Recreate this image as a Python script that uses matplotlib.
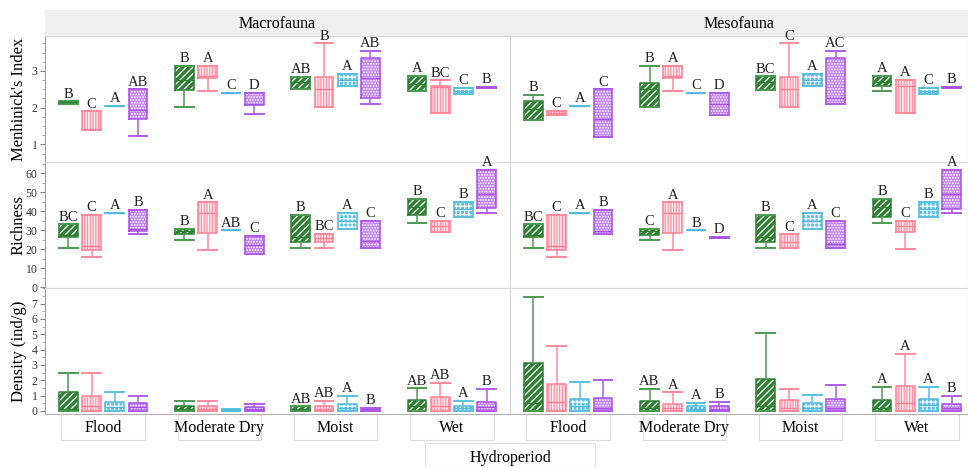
import matplotlib
matplotlib.use("Agg")
import matplotlib.pyplot as plt
from matplotlib.patches import Rectangle
from matplotlib.ticker import MultipleLocator
from matplotlib.transforms import blended_transform_factory

plt.rcParams['font.family'] = ['Liberation Serif', 'DejaVu Serif']
plt.rcParams['hatch.linewidth'] = 0.9

hydroperiods = ["Flood", "Moderate Dry", "Moist", "Wet"]
faunas = ["Macrofauna", "Mesofauna"]
metrics = ["Menhinick's Index", "Richness", "Density (ind/g)"]

# box summaries: (lower whisker, q1, median, q3, upper whisker)
# per hydroperiod, order green / pink / blue / purple
macro_menhinick = [
    (2.11, 2.12, 2.15, 2.17, 2.17), (1.40, 1.40, 1.42, 1.90, 1.90), (2.04, 2.04, 2.04, 2.04, 2.04), (1.23, 1.68, 1.94, 2.50, 2.50),
    (2.03, 2.47, 2.75, 3.14, 3.14), (2.45, 2.80, 2.85, 3.14, 3.14), (2.41, 2.41, 2.41, 2.41, 2.41), (1.82, 2.08, 2.10, 2.40, 2.40),
    (2.50, 2.50, 2.70, 2.84, 2.84), (2.03, 2.03, 2.50, 2.83, 3.75), (2.59, 2.59, 2.75, 2.92, 2.92), (2.11, 2.27, 2.80, 3.35, 3.55),
    (2.45, 2.45, 2.65, 2.86, 2.86), (1.86, 1.86, 2.55, 2.60, 2.74), (2.37, 2.37, 2.45, 2.53, 2.53), (2.53, 2.53, 2.55, 2.57, 2.57),
]
meso_menhinick = [
    (1.66, 1.66, 1.95, 2.18, 2.35), (1.80, 1.80, 1.85, 1.91, 1.91), (2.04, 2.04, 2.04, 2.04, 2.04), (1.21, 1.21, 1.68, 2.50, 2.50),
    (2.01, 2.01, 2.50, 2.68, 3.14), (2.45, 2.80, 2.85, 3.14, 3.14), (2.41, 2.41, 2.41, 2.41, 2.41), (1.80, 1.80, 2.10, 2.40, 2.40),
    (2.48, 2.48, 2.70, 2.85, 2.85), (2.03, 2.03, 2.50, 2.83, 3.75), (2.60, 2.60, 2.75, 2.92, 2.92), (2.10, 2.10, 2.27, 3.35, 3.55),
    (2.46, 2.59, 2.70, 2.86, 2.86), (1.86, 1.86, 2.59, 2.75, 2.75), (2.37, 2.37, 2.45, 2.53, 2.53), (2.53, 2.53, 2.55, 2.57, 2.57),
]
macro_richness = [
    (20.8, 26.6, 27.5, 33.1, 33.1), (15.8, 19.6, 21.9, 38.0, 38.0), (39.1, 39.1, 39.1, 39.1, 39.1), (27.9, 29.8, 30.8, 40.7, 40.7),
    (24.9, 28.0, 29.5, 30.8, 30.8), (19.8, 28.7, 38.9, 44.7, 44.7), (30.0, 30.0, 30.0, 30.0, 30.0), (17.5, 17.5, 22.0, 27.0, 27.0),
    (20.8, 23.7, 26.5, 38.0, 38.0), (20.8, 23.8, 26.0, 28.0, 28.0), (30.8, 30.8, 35.0, 39.0, 39.0), (20.5, 20.5, 24.5, 35.0, 35.0),
    (34.0, 38.0, 42.0, 46.6, 46.6), (28.9, 28.9, 32.0, 35.0, 35.0), (37.2, 37.2, 41.0, 44.9, 44.9), (39.3, 41.9, 48.9, 61.9, 61.9),
]
meso_richness = [
    (20.8, 26.6, 27.5, 33.1, 33.1), (15.8, 19.6, 21.9, 38.0, 38.0), (39.1, 39.1, 39.1, 39.1, 39.1), (27.9, 27.9, 29.6, 40.7, 40.7),
    (24.9, 27.7, 29.5, 30.8, 30.8), (19.8, 28.7, 38.9, 44.7, 44.7), (30.0, 30.0, 30.0, 30.0, 30.0), (26.0, 26.0, 26.3, 26.6, 26.6),
    (20.8, 23.7, 26.6, 38.0, 38.0), (20.5, 20.5, 24.0, 27.9, 27.9), (30.8, 30.8, 35.0, 39.0, 39.0), (20.5, 20.5, 22.8, 35.0, 35.0),
    (34.0, 37.2, 42.0, 46.6, 46.6), (20.0, 28.9, 32.0, 35.0, 35.0), (37.2, 37.2, 41.0, 44.9, 44.9), (39.3, 41.4, 48.9, 61.9, 61.9),
]
macro_density = [
    (0, 0, 0.10, 1.26, 2.50), (0, 0, 0.30, 0.96, 2.46), (0, 0, 0.26, 0.59, 1.22), (0, 0, 0.25, 0.50, 0.96),
    (0, 0, 0.15, 0.33, 0.67), (0, 0, 0.15, 0.30, 0.67), (0, 0, 0.03, 0.07, 0.10), (0, 0, 0.12, 0.26, 0.46),
    (0, 0, 0.15, 0.30, 0.30), (0, 0, 0.15, 0.33, 0.67), (0, 0, 0.20, 0.44, 0.98), (0, 0, 0.10, 0.22, 0.22),
    (0, 0, 0.30, 0.70, 1.48), (0, 0, 0.30, 0.91, 1.85), (0, 0, 0.20, 0.33, 0.65), (0, 0, 0.25, 0.59, 1.43),
]
meso_density = [
    (0, 0, 0.50, 3.15, 7.42), (0, 0, 0.59, 1.74, 4.22), (0, 0, 0.30, 0.78, 1.87), (0, 0, 0.20, 0.87, 2.04),
    (0, 0, 0.20, 0.65, 1.46), (0, 0, 0.20, 0.48, 1.22), (0, 0, 0.15, 0.30, 0.54), (0, 0, 0.15, 0.30, 0.59),
    (0, 0, 0.30, 2.11, 5.10), (0, 0, 0.20, 0.70, 1.43), (0, 0, 0.20, 0.52, 1.04), (0, 0, 0.20, 0.78, 1.72),
    (0, 0, 0.20, 0.70, 1.59), (0, 0, 0.50, 1.63, 3.72), (0, 0, 0.40, 0.76, 1.59), (0, 0, 0.22, 0.43, 0.98),
]

macro_menhinick_letters = ["B", "C", "A", "AB", "B", "A", "C", "D", "AB", "B", "A", "AB", "A", "BC", "C", "B"]
meso_menhinick_letters = ["B", "C", "A", "C", "B", "A", "C", "D", "BC", "C", "A", "AC", "A", "A", "C", "B"]
macro_richness_letters = ["BC", "C", "A", "B", "B", "A", "AB", "C", "B", "BC", "A", "C", "B", "C", "B", "A"]
meso_richness_letters = ["BC", "C", "A", "B", "C", "A", "B", "D", "B", "C", "A", "C", "B", "C", "B", "A"]
macro_density_letters = ["", "", "", "", "", "", "", "", "AB", "AB", "A", "B", "AB", "AB", "A", "B"]
meso_density_letters = ["", "", "", "", "AB", "A", "A", "B", "", "", "", "", "A", "A", "A", "B"]

panels = [
    [(macro_menhinick, macro_menhinick_letters), (meso_menhinick, meso_menhinick_letters)],
    [(macro_richness, macro_richness_letters), (meso_richness, meso_richness_letters)],
    [(macro_density, macro_density_letters), (meso_density, meso_density_letters)],
]

# styles for the four series
edge_colors = ['#2e7d32', '#ff8096', '#4fb8dc', '#a64ee6']
whisker_colors = ['#4e9a52', '#ff8a9c', '#5bc0e0', '#b05ce8']
face_colors = ['#2f8034', '#fff0f3', '#5ebfe4', '#bf80f0']
hatch_colors = ['white', '#ff8fa2', 'white', 'white']
hatches = ['/////', '||||||', '++++', '......']
offsets = [-0.3, -0.1, 0.1, 0.3]
box_w = 0.16

ylims = [(0.52, 3.95), (-0.4, 65.9), (-0.2, 8.02)]
major = [1, 10, 1]
minor = [0.25, 5, 0.5]

W, H = 968, 468
fig = plt.figure(figsize=(W / 100, H / 100), dpi=100)

col_x = [45, 510]
col_w = [465, 458]
row_top = [36, 162, 288]
row_h = 126

# header strip
hax = fig.add_axes([45 / W, (H - 36) / H, 923 / W, 26 / H])
hax.set_facecolor('#efefef')
hax.set_xticks([])
hax.set_yticks([])
for sp in hax.spines.values():
    sp.set_visible(False)
hax.text((277 - 45) / 923, 0.45, faunas[0], ha='center', va='center', fontsize=11.5, transform=hax.transAxes)
hax.text((739 - 45) / 923, 0.45, faunas[1], ha='center', va='center', fontsize=11.5, transform=hax.transAxes)

for r in range(3):
    for c in range(2):
        ax = fig.add_axes([col_x[c] / W, (H - row_top[r] - row_h) / H, col_w[c] / W, row_h / H])
        ax.set_facecolor('none')
        stats, letters = panels[r][c]
        for g in range(4):
            for s in range(4):
                lo, q1, med, q3, hi = stats[g * 4 + s]
                x = g + 1 + offsets[s]
                st = dict(whislo=lo, q1=q1, med=med, q3=q3, whishi=hi, fliers=[])
                # hatched fill
                ax.bxp([st], positions=[x], widths=box_w, patch_artist=True, showcaps=False,
                       showfliers=False, manage_ticks=False,
                       boxprops=dict(facecolor=face_colors[s], edgecolor=hatch_colors[s],
                                     hatch=hatches[s], linewidth=0),
                       whiskerprops=dict(linewidth=0), medianprops=dict(linewidth=0))
                # outline, whiskers, caps, median
                ax.bxp([st], positions=[x], widths=box_w, capwidths=box_w,
                       showfliers=False, manage_ticks=False,
                       boxprops=dict(color=edge_colors[s], linewidth=1.1),
                       whiskerprops=dict(color=whisker_colors[s], linewidth=1.1),
                       capprops=dict(color=whisker_colors[s], linewidth=1.4),
                       medianprops=dict(color=edge_colors[s], linewidth=1.0))
                if letters[g * 4 + s]:
                    ax.annotate(letters[g * 4 + s], (x, hi), xytext=(0, 0.5), textcoords='offset points',
                                ha='center', va='bottom', fontsize=10.5, color='#222222')

        ax.set_xlim(0.5, 0.5 + col_w[c] / 116.25)
        ax.set_ylim(*ylims[r])
        ax.set_xticks([])
        for sp in ax.spines.values():
            sp.set_color('#dadada')
            sp.set_linewidth(0.8)
        if c == 0:
            ax.spines['left'].set_color('#9a9a9a')
            if r == 2:
                ax.set_yticks(range(8))
            else:
                ax.yaxis.set_major_locator(MultipleLocator(major[r]))
            ax.yaxis.set_minor_locator(MultipleLocator(minor[r]))
            ax.tick_params(axis='y', which='major', labelsize=8.5, length=3.5, width=0.8,
                           color='#888888', labelcolor='#333333', pad=2)
            ax.tick_params(axis='y', which='minor', length=2, width=0.6, color='#aaaaaa')
            fig.text(19 / W, (H - row_top[r] - row_h / 2) / H, metrics[r], rotation=90,
                     ha='center', va='center', fontsize=12)
        else:
            ax.tick_params(axis='y', which='both', left=False, labelleft=False)
        if r == 2:
            ax.spines['bottom'].set_color('#b0b0b0')
            tr = blended_transform_factory(ax.transData, ax.transAxes)
            for g, name in enumerate(hydroperiods):
                ax.add_patch(Rectangle((g + 1 - 0.36, -0.21), 0.72, 0.21, transform=tr,
                                       facecolor='white', edgecolor='#dddddd', linewidth=0.8, clip_on=False))
                ax.text(g + 1, -0.115, name, transform=tr, ha='center', va='center', fontsize=11.5)

fig.patches.append(Rectangle((425 / W, 0), 170 / W, 25 / H, transform=fig.transFigure,
                             facecolor='white', edgecolor='#e3e3e3', linewidth=0.8))
fig.text(510 / W, 10 / H, "Hydroperiod", ha='center', va='center', fontsize=11.5)

fig.savefig("out.png", dpi=100)
